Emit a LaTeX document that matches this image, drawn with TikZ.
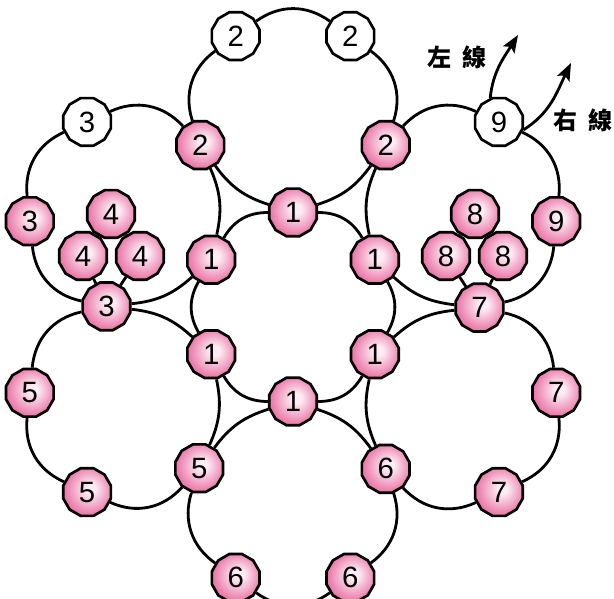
\documentclass[tikz,border=0pt]{standalone}
\usepackage{fontspec}
\newfontfamily\digitfont{Liberation Sans}
\newfontfamily\cjkfont{Noto Sans CJK TC}
\usetikzlibrary{shapes.geometric,calc,arrows.meta}
\pgfdeclarelayer{background}
\pgfsetlayers{background,main}
\definecolor{beadout}{RGB}{214,58,122}
\definecolor{beadmid}{RGB}{236,130,175}
\definecolor{beadin}{RGB}{253,236,244}
\pgfdeclareradialshading{beadshade}{\pgfpoint{4bp}{4bp}}{color(0bp)=(beadin); color(5bp)=(beadin); color(24bp)=(beadmid); color(42bp)=(beadout); color(50bp)=(beadout)}
\begin{document}
\begin{tikzpicture}[x=0.75pt,y=0.75pt,
  bead/.style={regular polygon, regular polygon sides=12, minimum size=37pt, inner sep=0pt,
    draw=black, line width=2pt, font=\digitfont\fontsize{22}{22}\selectfont},
  pb/.style={bead, shade, shading=beadshade},
  wb/.style={bead, fill=white},
  ring/.style={line width=2.1pt, black},
  thread/.style={line width=2.1pt, black, -{Stealth[length=13pt,width=10pt,inset=2.5pt]}},
  lbl/.style={font=\cjkfont\bfseries\fontsize{18}{18}\selectfont}]
\useasboundingbox (0,0) rectangle (614,599);
\coordinate (O) at (293,292);
\foreach \n/\a in {PT/90, PUL/150, PLL/210, PB/270, PLR/330, PUR/30}
  \coordinate (\n) at ($(O)+(\a:192)$);
% central beads
\node[pb] (cT)  at ($(O)+(90:94.5)$) {1};
\node[pb] (cUL) at ($(O)+(150:94.5)$) {1};
\node[pb] (cLL) at ($(O)+(210:94.5)$) {1};
\node[pb] (cB)  at ($(O)+(270:94.5)$) {1};
\node[pb] (cLR) at ($(O)+(330:94.5)$) {1};
\node[pb] (cUR) at ($(O)+(30:94.5)$) {1};
% shared beads
\node[pb] (s2L) at ($(PT)+(198:97.5)$) {2};
\node[pb] (s2R) at ($(PT)+(-18:97.5)$) {2};
\node[pb] (s3)  at ($(PUL)+(258:97.5)$) {3};
\node[pb] (s5)  at ($(PLL)+(318:97.5)$) {5};
\node[pb] (s6)  at ($(PB)+(18:97.5)$) {6};
\node[pb] (s7)  at ($(PLR)+(78:97.5)$) {7};
% petal beads
\node[wb] (w2L) at ($(PT)+(126:97.5)$) {2};
\node[wb] (w2R) at ($(PT)+(54:97.5)$) {2};
\node[wb] (w3)  at ($(PUL)+(114:97.5)$) {3};
\node[pb] (p3)  at ($(PUL)+(186:97.5)$) {3};
\node[pb] (p5L) at ($(PLL)+(174:97.5)$) {5};
\node[pb] (p5B) at ($(PLL)+(246:97.5)$) {5};
\node[pb] (p6L) at ($(PB)+(234:97.5)$) {6};
\node[pb] (p6R) at ($(PB)+(306:97.5)$) {6};
\node[pb] (p7B) at ($(PLR)+(294:97.5)$) {7};
\node[pb] (p7R) at ($(PLR)+(6:97.5)$) {7};
\node[wb] (w9)  at ($(PUR)+(66:97.5)$) {9};
\node[pb] (p9)  at ($(PUR)+(354:97.5)$) {9};
% inner clusters
\node[pb] (q4T) at (111,385) {4};
\node[pb] (q4L) at (83,343) {4};
\node[pb] (q4R) at (140,343) {4};
\node[pb] (q8T) at (475,385) {8};
\node[pb] (q8L) at (446,343) {8};
\node[pb] (q8R) at (503,343) {8};
% threads
\coordinate (tipL) at (518,564);
\coordinate (tipR) at (571,536);
\node[lbl] (lL) at (457,542) {左\hspace{8pt}線};
\node[lbl] (lR) at (583,479) {右\hspace{8pt}線};
\begin{pgfonlayer}{background}
  \foreach \a/\b in {cUR/cT, cT/cUL, cUL/cLL, cLL/cB, cB/cLR, cLR/cUR}
    \draw[ring] (\a) to[bend right=30] (\b);
  \foreach \a/\b in {s2R/w2R, w2R/w2L, w2L/s2L,
                     s2L/w3, w3/p3, p3/s3,
                     s3/p5L, p5L/p5B, p5B/s5,
                     s5/p6L, p6L/p6R, p6R/s6,
                     p7R/s7, s6/p7B, p7B/p7R,
                     p9/w9, w9/s2R, s7/p9}
    \draw[ring] (\a) to[bend right=36] (\b);
  \foreach \a/\b in {s2L/cT, cT/s2R, cUL/s2L, s3/cUL, cLL/s3, s5/cLL,
                     s6/cB, cB/s5, s7/cLR, cLR/s6, s2R/cUR, cUR/s7}
    \draw[ring] (\a) to[bend right=18] (\b);
  \draw[ring] (s3) -- (q4L) -- (q4T) -- (q4R) -- (s3);
  \draw[ring] (s7) -- (q8L) -- (q8T) -- (q8R) -- (s7);
  \draw[thread] (w9.110) to[out=84,in=238] (tipL);
  \draw[thread] (w9.-18) to[out=32,in=244] (tipR);
\end{pgfonlayer}
\end{tikzpicture}
\end{document}
